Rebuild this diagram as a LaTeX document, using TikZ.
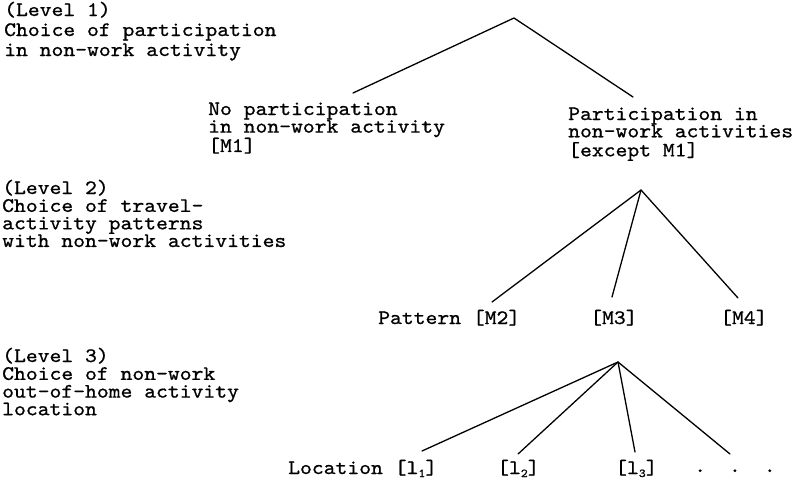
\documentclass[tikz,border=0pt]{standalone}
\usepackage{fontspec}
\setmonofont[FakeStretch=1.1,FakeBold=0.8]{lmmono10-regular.otf}
\newcommand\lsub[1]{\raisebox{-3pt}{\fontsize{12}{12}\selectfont #1}}
\newcommand\lines[1]{\begin{tabular}[t]{@{}l@{}}#1\end{tabular}}
\begin{document}
\begin{tikzpicture}[x=1pt,y=-1pt,
  lbl/.style={font=\ttfamily\fontsize{20.5}{17}\selectfont, inner sep=0pt, anchor=base west},
  lblwide/.style={lbl, font=\ttfamily\fontsize{20.5}{20}\selectfont},
  branch/.style={line width=1.3pt, line cap=round, line join=round}]
\useasboundingbox (0,0) rectangle (797,482);

% level descriptions
\node[lblwide] (lev1) at (4,16) {\lines{(Level 1)\\Choice of participation\\in non-work activity}};
\node[lbl] (lev2) at (2,194) {\lines{(Level 2)\\Choice of travel-\\activity patterns\\with non-work activities}};
\node[lbl] (lev3) at (2,362) {\lines{(Level 3)\\Choice of non-work\\out-of-home activity\\location}};

% level 1 alternatives
\node[lbl] (m1) at (208,115) {\lines{No participation\\in non-work activity\\{[M1]}}};
\node[lbl, font=\ttfamily\fontsize{20.5}{16}\selectfont] (mx) at (568,120) {\lines{Participation in\\non-work activities\\{[except M1]}}};

% level 2 alternatives
\node[lbl] (m2) at (378,324) {Pattern [M2]};
\node[lbl] (m3) at (590,324) {[M3]};
\node[lbl] (m4) at (720,324) {[M4]};

% level 3 alternatives
\node[lbl] (loc1) at (288,474) {Location [l\lsub{1}]};
\node[lbl] (loc2) at (497,474) {[l\lsub{2}]};
\node[lbl] (loc3) at (615,474) {[l\lsub{3}]};
\node[lbl] (dots) at (694,472) {.\hspace{23pt}.\hspace{23pt}.};

% branch points and branch ends
\coordinate (a1) at (514,18);
\coordinate (e1a) at (353,93);
\coordinate (e1b) at (633,97);
\coordinate (a2) at (641,190);
\coordinate (e2a) at (492,302);
\coordinate (e2b) at (612,297);
\coordinate (e2c) at (738,298);
\coordinate (a3) at (618,362);
\coordinate (e3a) at (422,451);
\coordinate (e3b) at (518,454);
\coordinate (e3c) at (635,452);
\coordinate (e3d) at (730,454);

\draw[branch] (e1a) -- (a1) -- (e1b);
\draw[branch] (e2a) -- (a2) -- (e2c);
\draw[branch] (a2) -- (e2b);
\draw[branch] (e3a) -- (a3) -- (e3d);
\draw[branch] (a3) -- (e3b);
\draw[branch] (a3) -- (e3c);
\end{tikzpicture}
\end{document}
